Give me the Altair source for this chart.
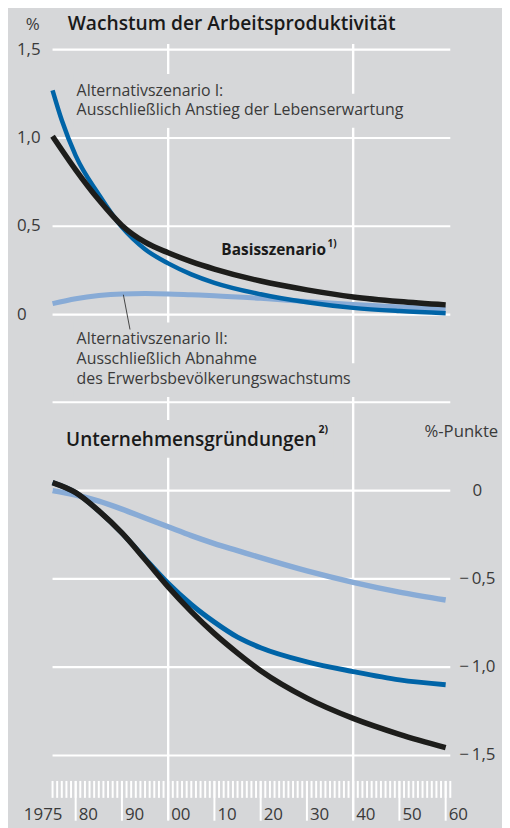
import altair as alt
import pandas as pd

# ---------------- data ----------------
# Upper panel: Wachstum der Arbeitsproduktivität (%)
years_top = [1975, 1980, 1985, 1990, 1995, 2000, 2005, 2010, 2020, 2030, 2040, 2050, 2060]
top_basis = [1.01, 0.82, 0.65, 0.505, 0.41, 0.35, 0.30, 0.258, 0.19, 0.14, 0.10, 0.074, 0.055]
years_top_alt1 = [1975, 1977, 1980, 1985, 1990, 1995, 2000, 2005, 2010, 2020, 2030, 2040, 2050, 2060]
top_alt1 = [1.27, 1.10, 0.90, 0.68, 0.495, 0.37, 0.29, 0.228, 0.18, 0.115, 0.07, 0.038, 0.02, 0.008]
top_alt2 = [0.062, 0.09, 0.108, 0.117, 0.119, 0.117, 0.112, 0.107, 0.092, 0.074, 0.057, 0.043, 0.031]

# Lower panel: Unternehmensgründungen (%-Punkte)
years_bot = [1975, 1980, 1985, 1990, 1995, 2000, 2005, 2010, 2015, 2020, 2030, 2040, 2050, 2060]
bot_basis = [0.045, -0.012, -0.115, -0.24, -0.39, -0.545, -0.685, -0.81, -0.92, -1.02, -1.175, -1.29, -1.38, -1.455]
bot_alt1 = [0.045, -0.012, -0.115, -0.24, -0.385, -0.525, -0.645, -0.745, -0.83, -0.89, -0.97, -1.025, -1.072, -1.10]
bot_alt2 = [0.0, -0.025, -0.06, -0.105, -0.155, -0.205, -0.255, -0.30, -0.34, -0.38, -0.455, -0.52, -0.575, -0.62]

top_y_ticks = [0, 0.5, 1.0, 1.5]
top_y_labels = ["0", "0,5", "1,0", "1,5"]
bot_y_grid = [0.5, 0, -0.5, -1.0, -1.5]
bot_y_ticks = [0, -0.5, -1.0, -1.5]
bot_y_labels = ["0", "\u2212\u20090,5", "\u2212\u20091,0", "\u2212\u20091,5"]
x_domain = [1975, 2061]
x_grid_years = [2000, 2040]
x_label_years = [1975, 1980, 1990, 2000, 2010, 2020, 2030, 2040, 2050, 2060]
x_labels = ["1975", "80", "90", "00", "10", "20", "30", "40", "50", "60"]
minor_tick_years = list(range(1975, 2062))

# ---------------- style ----------------
BG = "#d6d7d9"
C_BASIS = "#1d1d1b"
C_ALT1 = "#0064a7"
C_ALT2 = "#88abd6"
TXT = "#3a3a3a"
DARK = "#1a1a1a"
FONT = "Open Sans"
W, H = 400, 780

# one vertical scale in units of the upper panel; the lower panel's zero line
# sits one band (0.9966 units) further down, so its values are shifted by a transform
BOT_SHIFT = 0.9966
X = alt.Scale(domain=x_domain, nice=False, zero=False)
Y = alt.Scale(domain=[-2.8604, 1.5315], nice=False, zero=False)
SHIFT_EXPR = f"datum.panel == 'bot' ? datum.v - {BOT_SHIFT} : datum.v"


def xenc():
    return alt.X("year:Q", scale=X, axis=None)


def yenc():
    return alt.Y("y:Q", scale=Y, axis=None)


def panel_chart(df, panel):
    df = df.copy()
    df["panel"] = panel
    return alt.Chart(df).transform_calculate(y=SHIFT_EXPR)


def line(years, values, color, width, panel):
    return panel_chart(pd.DataFrame({"year": years, "v": values}), panel).mark_line(
        color=color, strokeWidth=width, interpolate="monotone", strokeCap="butt"
    ).encode(x=xenc(), y=yenc())


def ylabels(values, labels, panel, xpos, align):
    return panel_chart(pd.DataFrame({"v": values, "lab": labels}), panel).mark_text(
        align=align, baseline="middle", font=FONT, fontSize=17, color=TXT
    ).encode(y=yenc(), x=alt.value(xpos), text="lab:N")


# horizontal gridlines: one segment per grid value across the whole x domain
grid_rows = []
for panel, vals in (("top", top_y_ticks), ("bot", bot_y_grid)):
    for v in vals:
        for yr in x_domain:
            grid_rows.append({"year": yr, "v": v, "panel": panel, "gid": f"{panel}{v}"})
hgrid = alt.Chart(pd.DataFrame(grid_rows)).transform_calculate(y=SHIFT_EXPR).mark_line(
    color="#ffffff", strokeWidth=2.2, strokeCap="butt").encode(
    x=xenc(), y=yenc(), detail="gid:N")

ONE = pd.DataFrame({"k": [1]})


def knock(x0, x1, y0, y1):
    return alt.Chart(ONE).mark_rect(color=BG).encode(
        x=alt.value(x0), x2=alt.value(x1), y=alt.value(y0), y2=alt.value(y1))


def label(txt, x, y, size, color=TXT, weight="normal", align="left", lh=None):
    kw = dict(align=align, baseline="alphabetic", font=FONT, fontSize=size,
              fontWeight=weight, color=color, lineBreak="\n")
    if lh is not None:
        kw["lineHeight"] = lh
    return alt.Chart(pd.DataFrame({"t": [txt]})).mark_text(**kw).encode(
        text="t:N", x=alt.value(x), y=alt.value(y))


vgrid = alt.Chart(pd.DataFrame({"year": x_grid_years})).mark_rule(
    color="white", strokeWidth=2.4).encode(x=xenc())

minor_ticks = alt.Chart(pd.DataFrame({"year": minor_tick_years})).mark_rule(
    color="white", strokeWidth=2).encode(x=xenc(), y=alt.value(741), y2=alt.value(758))
major_ticks = alt.Chart(pd.DataFrame({"year": x_label_years[1:]})).mark_rule(
    color="white", strokeWidth=2).encode(x=xenc(), y=alt.value(741), y2=alt.value(781))

xlab_df = pd.DataFrame({"year": x_label_years, "lab": x_labels})
xlabels = alt.Chart(xlab_df.iloc[1:]).mark_text(
    align="left", baseline="alphabetic", dx=3, font=FONT, fontSize=17, color=TXT).encode(
    x=xenc(), y=alt.value(780.5), text="lab:N")
xlabel_first = alt.Chart(xlab_df.iloc[:1]).mark_text(
    align="right", baseline="alphabetic", dx=10, font=FONT, fontSize=17, color=TXT).encode(
    x=xenc(), y=alt.value(780.5), text="lab:N")

knocks = [
    knock(21, 178, 30, 84),
    knock(21, 362, 50, 84),
    knock(21, 208, 280, 355),
    knock(21, 306, 321, 355),
    knock(12, 283, 378, 416),
]
texts = [
    label("%", -27, -14, 17),
    label("Wachstum der Arbeitsproduktivität", 15.2, -14, 19.3, DARK, 600),
    label("Alternativszenario I:\nAusschließlich Anstieg der Lebenserwartung", 24.2, 52, 16, lh=19.5),
    label("Basisszenario", 275, 212, 15.5, DARK, "bold", align="right"),
    label("1)", 276.5, 204, 10, DARK, "bold"),
    label("Alternativszenario II:\nAusschließlich Abnahme\ndes Erwerbsbevölkerungswachstums",
          24.2, 302, 16, lh=20),
    label("Unternehmensgründungen", 265.5, 403.7, 19.1, DARK, 600, align="right"),
    label("2)", 267.5, 391, 10.5, DARK, "bold"),
    label("%-Punkte", 374, 394.7, 16.8),
]

leader = alt.Chart(ONE).mark_rule(color="#333333", strokeWidth=0.9).encode(
    x=alt.value(71.2), x2=alt.value(77.9), y=alt.value(252), y2=alt.value(287))

chart = alt.layer(
    vgrid,
    minor_ticks,
    major_ticks,
    *knocks,
    hgrid,
    *texts,
    line(years_top, top_alt2, C_ALT2, 5, "top"),
    line(years_top_alt1, top_alt1, C_ALT1, 4.5, "top"),
    line(years_top, top_basis, C_BASIS, 5.5, "top"),
    line(years_bot, bot_alt2, C_ALT2, 5.5, "bot"),
    line(years_bot, bot_alt1, C_ALT1, 5, "bot"),
    line(years_bot, bot_basis, C_BASIS, 5.5, "bot"),
    leader,
    ylabels(top_y_ticks, top_y_labels, "top", -35.8, "left"),
    ylabels(bot_y_ticks, bot_y_labels, "bot", 427.2, "center"),
    xlabels,
    xlabel_first,
).properties(
    width=W, height=H,
    autosize=alt.AutoSizeParams(type="none"),
    padding={"left": 44.8, "top": 34, "right": 52, "bottom": 6},
    background=BG,
).configure_view(fill=BG, stroke=None, strokeWidth=0)

chart.save("out.html", embed_options={"renderer": "svg", "actions": False})
